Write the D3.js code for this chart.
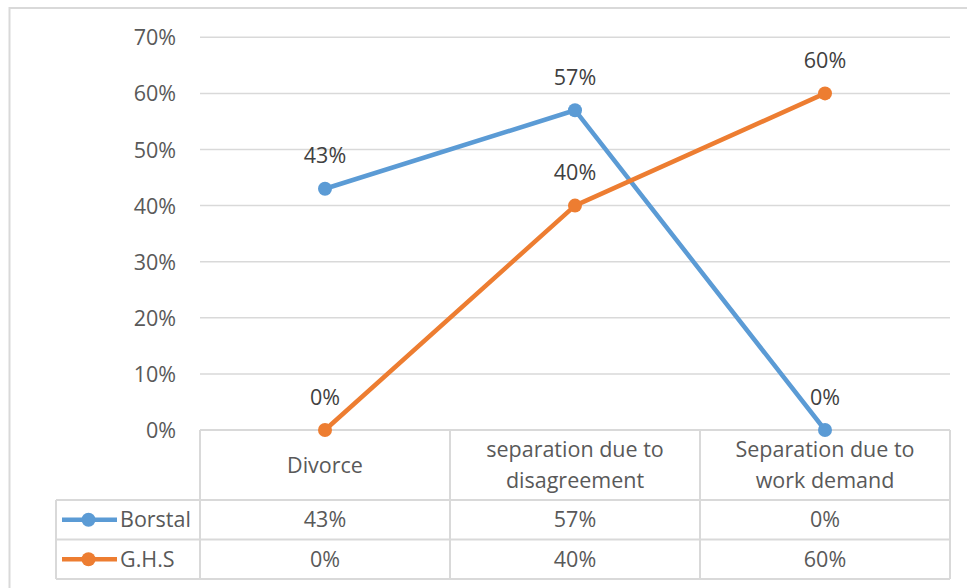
<!DOCTYPE html>
<html>
<head>
<meta charset="utf-8">
<script src="https://cdn.jsdelivr.net/npm/d3@7"></script>
<style>
  html, body { margin: 0; padding: 0; background: #fff; }
  svg { display: block; font-family: "Open Sans", sans-serif; }
</style>
</head>
<body>
<svg id="chart" width="967" height="588"></svg>
<script>
// Categories (multi-line header text in the data table)
const categories = ["Divorce", "separation due to disagreement", "Separation due to work demand"];
const categoryLines = [["Divorce"], ["separation due to", "disagreement"], ["Separation due to", "work demand"]];
const seriesNames = ["Borstal", "G.H.S"];
const borstal = [0.43, 0.57, 0.00];
const ghs = [0.00, 0.40, 0.60];
const yTicks = [0, 0.1, 0.2, 0.3, 0.4, 0.5, 0.6, 0.7];
const colors = ["#5B9BD5", "#ED7D31"];

const series = [
  { name: seriesNames[0], values: borstal, color: colors[0] },
  { name: seriesNames[1], values: ghs, color: colors[1] }
];

const svg = d3.select("#chart");
const plot = { left: 200, right: 950, top: 37.3, bottom: 430 };
const table = { legendLeft: 56, headerBottom: 500, rowH: 39.5 };
const fontSize = 21.5;

const x = d3.scaleBand().domain(categories).range([plot.left, plot.right]).padding(0);
const y = d3.scaleLinear().domain([0, 0.7]).range([plot.bottom, plot.top]);
const fmt = d3.format(".0%");
const gridColor = "#d9d9d9";

// Outer chart border
svg.append("path")
  .attr("d", "M9.5,588 L9.5,8 L967,8")
  .attr("fill", "none").attr("stroke", gridColor).attr("stroke-width", 2);

// Horizontal gridlines
svg.append("g").selectAll("line").data(yTicks.filter(t => t > 0)).join("line")
  .attr("x1", plot.left).attr("x2", plot.right)
  .attr("y1", d => y(d)).attr("y2", d => y(d))
  .attr("stroke", gridColor).attr("stroke-width", 1.5);

// Y axis tick labels
const yAxis = d3.axisLeft(y).tickValues(yTicks).tickFormat(fmt).tickSize(0).tickPadding(0);
const yg = svg.append("g").attr("transform", `translate(176,0)`).call(yAxis);
yg.select(".domain").remove();
yg.selectAll("text").attr("fill", "#595959").attr("font-size", fontSize)
  .attr("font-family", "Open Sans, sans-serif").attr("dy", "0.35em");

// Data table grid
const tg = svg.append("g").attr("stroke", gridColor).attr("stroke-width", 2).attr("fill", "none");
const rowYs = [table.headerBottom, table.headerBottom + table.rowH, table.headerBottom + 2 * table.rowH];
tg.append("line").attr("x1", plot.left).attr("x2", plot.right).attr("y1", plot.bottom).attr("y2", plot.bottom);
rowYs.forEach(ry => tg.append("line").attr("x1", table.legendLeft).attr("x2", plot.right).attr("y1", ry).attr("y2", ry));
const colXs = categories.map(c => x(c)).concat([plot.right]);
colXs.forEach(cx => tg.append("line").attr("x1", cx).attr("x2", cx).attr("y1", plot.bottom).attr("y2", rowYs[2]));
tg.append("line").attr("x1", table.legendLeft).attr("x2", table.legendLeft).attr("y1", table.headerBottom).attr("y2", rowYs[2]);

// Category headers
const headers = svg.append("g").attr("fill", "#595959").attr("font-size", fontSize).attr("text-anchor", "middle");
categories.forEach((c, i) => {
  const lines = categoryLines[i];
  const cy = (plot.bottom + table.headerBottom) / 2;
  const lh = 31;
  lines.forEach((ln, j) => {
    headers.append("text")
      .attr("x", x(c) + x.bandwidth() / 2)
      .attr("y", cy + (j - (lines.length - 1) / 2) * lh)
      .attr("dy", "0.35em")
      .text(ln);
  });
});

// Table rows: legend keys and values
series.forEach((s, r) => {
  const cy = table.headerBottom + table.rowH * (r + 0.5);
  const g = svg.append("g");
  g.append("line").attr("x1", 62).attr("x2", 117).attr("y1", cy).attr("y2", cy)
    .attr("stroke", s.color).attr("stroke-width", 4.5);
  g.append("circle").attr("cx", 88.5).attr("cy", cy).attr("r", 7).attr("fill", s.color);
  g.append("text").attr("x", 120).attr("y", cy).attr("dy", "0.35em")
    .attr("fill", "#595959").attr("font-size", fontSize).text(s.name);
  s.values.forEach((v, i) => {
    g.append("text").attr("x", x(categories[i]) + x.bandwidth() / 2).attr("y", cy).attr("dy", "0.35em")
      .attr("text-anchor", "middle").attr("fill", "#595959").attr("font-size", fontSize).text(fmt(v));
  });
});

// Lines, markers and data labels
const line = d3.line()
  .x((d, i) => x(categories[i]) + x.bandwidth() / 2)
  .y(d => y(d));

series.forEach(s => {
  const g = svg.append("g");
  g.append("path").attr("d", line(s.values)).attr("fill", "none")
    .attr("stroke", s.color).attr("stroke-width", 4.5).attr("stroke-linejoin", "round");
  g.selectAll("circle").data(s.values).join("circle")
    .attr("cx", (d, i) => x(categories[i]) + x.bandwidth() / 2)
    .attr("cy", d => y(d)).attr("r", 7).attr("fill", s.color);
  g.selectAll("text").data(s.values).join("text")
    .attr("x", (d, i) => x(categories[i]) + x.bandwidth() / 2)
    .attr("y", d => y(d) - 33).attr("dy", "0.35em")
    .attr("text-anchor", "middle").attr("fill", "#404040").attr("font-size", fontSize)
    .text(d => fmt(d));
});
</script>
</body>
</html>
